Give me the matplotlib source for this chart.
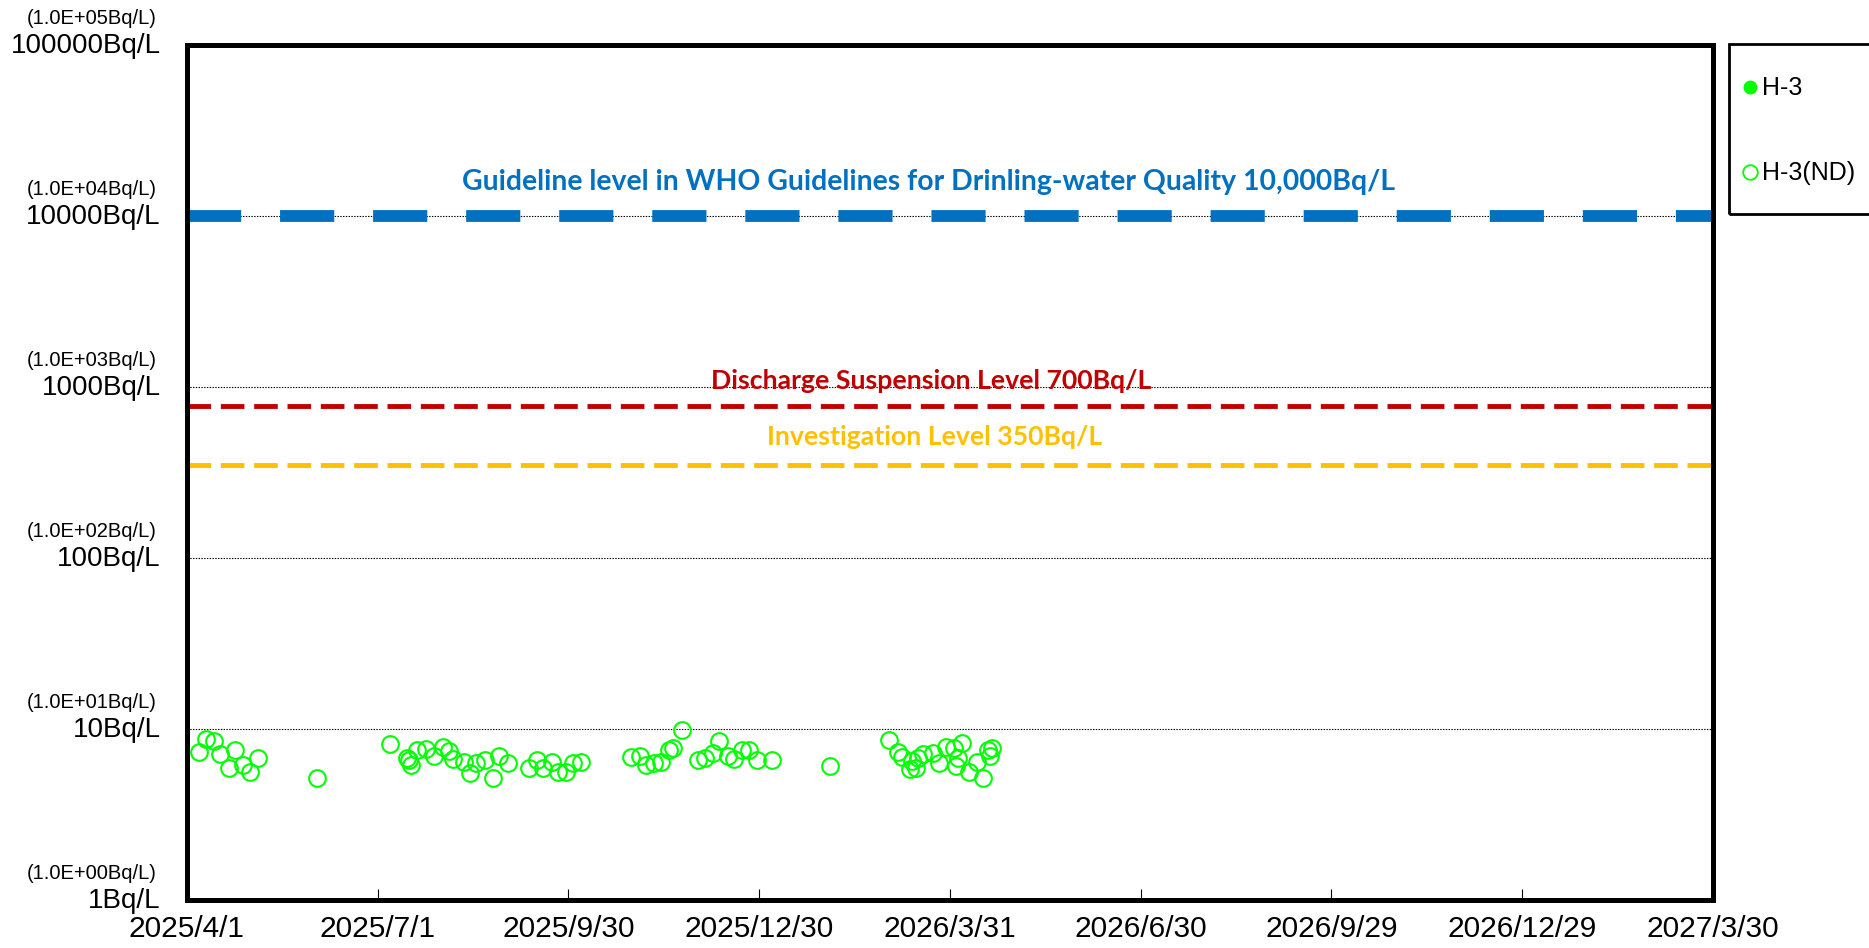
import pandas as pd
import matplotlib
matplotlib.use("Agg")
import matplotlib.pyplot as plt
from matplotlib.lines import Line2D
from matplotlib.patches import Rectangle
from matplotlib.ticker import NullLocator

plt.rcParams['font.family'] = ['Liberation Sans', 'DejaVu Sans']
plt.rcParams['lines.scale_dashes'] = False

# H-3 (ND) results, Bq/L
nd_dates = [
    '2025-04-07', '2025-04-10', '2025-04-14', '2025-04-17', '2025-04-21',
    '2025-04-24', '2025-04-28', '2025-05-01', '2025-05-05', '2025-06-02',
    '2025-07-07', '2025-07-15', '2025-07-16', '2025-07-17', '2025-07-20',
    '2025-07-24', '2025-07-28', '2025-08-01', '2025-08-04', '2025-08-06',
    '2025-08-11', '2025-08-14', '2025-08-17', '2025-08-21', '2025-08-25',
    '2025-08-28', '2025-09-01', '2025-09-11', '2025-09-15', '2025-09-18',
    '2025-09-22', '2025-09-25', '2025-09-29', '2025-10-02', '2025-10-06',
    '2025-10-30', '2025-11-03', '2025-11-06', '2025-11-10', '2025-11-13',
    '2025-11-17', '2025-11-19', '2025-11-23', '2025-12-01', '2025-12-04',
    '2025-12-08', '2025-12-11', '2025-12-15', '2025-12-18', '2025-12-22',
    '2025-12-25', '2025-12-29', '2026-01-05', '2026-02-02',
    '2026-03-02', '2026-03-06', '2026-03-08', '2026-03-12', '2026-03-13',
    '2026-03-15', '2026-03-16', '2026-03-18', '2026-03-23', '2026-03-26',
    '2026-03-29', '2026-04-02', '2026-04-03', '2026-04-04', '2026-04-06',
    '2026-04-09', '2026-04-13', '2026-04-16', '2026-04-18', '2026-04-19',
    '2026-04-20',
]
nd_values = [
    7.3, 8.7, 8.5, 7.1, 5.9,
    7.5, 6.2, 5.6, 6.8, 5.2,
    8.2, 6.8, 6.6, 6.2, 7.5,
    7.6, 7.0, 7.9, 7.4, 6.7,
    6.4, 5.5, 6.3, 6.6, 5.2,
    7.0, 6.3, 5.9, 6.6, 5.9,
    6.4, 5.6, 5.6, 6.3, 6.4,
    6.9, 7.0, 6.2, 6.3, 6.4,
    7.5, 7.7, 9.9, 6.6, 6.8,
    7.2, 8.5, 7.0, 6.7, 7.5,
    7.5, 6.6, 6.6, 6.1,
    8.6, 7.3, 6.9, 5.8, 6.5,
    5.9, 6.8, 7.1, 7.2, 6.3,
    7.9, 7.7, 6.1, 6.8, 8.3,
    5.6, 6.4, 5.2, 7.5, 7.0,
    7.7,
]
# detected H-3 (none in this period)
det_dates = []
det_values = []

x_ticks = ['2025-04-01', '2025-07-01', '2025-09-30', '2025-12-30', '2026-03-31',
           '2026-06-30', '2026-09-29', '2026-12-29', '2027-03-30']
y_exps = [0, 1, 2, 3, 4, 5]

# levels as drawn in the picture
ref_levels = [10000, 770, 350]
ref_labels = ['Guideline level in WHO Guidelines for Drinling-water Quality 10,000Bq/L',
              'Discharge Suspension Level 700Bq/L',
              'Investigation Level 350Bq/L']

W, H = 1869, 948
fig = plt.figure(figsize=(W / 100, H / 100), dpi=100)
ax = fig.add_axes([0.1, 0.0506, 0.8165, 0.9019])

ax.set_yscale('log')
ax.set_ylim(1, 1e5)
xt = pd.to_datetime(x_ticks)
ax.set_xlim(xt[0], xt[-1])

# grid lines
for v in [10, 100, 1000, 10000]:
    ax.axhline(v, color='black', lw=0.8, dashes=(1, 1), zorder=1)

# reference levels
ax.axhline(ref_levels[0], color='#0070C0', lw=8.5, dashes=(39, 28), zorder=2)
ax.axhline(ref_levels[1], color='#C00000', lw=3.5, dashes=(17, 7), zorder=2)
ax.axhline(ref_levels[2], color='#FFC000', lw=3.5, dashes=(17, 7), zorder=2)

lab_font = dict(family=['Lato', 'DejaVu Sans'], fontweight='bold',
                ha='center', va='center', transform=ax.get_yaxis_transform())
ax.text(0.486, 10 ** 4.2, ref_labels[0], color='#0070C0', fontsize=20.4, **lab_font)
ax.text(0.488, 10 ** 3.035, ref_labels[1], color='#C00000', fontsize=19.2, **lab_font)
ax.text(0.490, 10 ** 2.705, ref_labels[2], color='#FFC000', fontsize=19.2, **lab_font)

# data
ax.plot(pd.to_datetime(nd_dates), nd_values, 'o', ls='none', ms=12,
        mfc='none', mec='#00FF00', mew=1.5, zorder=3)
ax.plot(pd.to_datetime(det_dates), det_values, 'o', ls='none', ms=12,
        mfc='#00FF00', mec='#00FF00', zorder=3)

# axes frame
for s in ax.spines.values():
    s.set_linewidth(3.6)

ax.set_xticks(xt)
ax.set_xticklabels([f"{d.year}/{d.month}/{d.day}" for d in xt], fontsize=21.5)
ax.tick_params(axis='x', direction='in', length=8, width=0.8, pad=11)

ax.set_yticks([])
ax.yaxis.set_minor_locator(NullLocator())
for e in y_exps:
    v = 10 ** e
    ax.annotate(f"{v}Bq/L", xy=(0, v), xycoords=('axes fraction', 'data'),
                xytext=(-19, -1), textcoords='offset points',
                ha='right', va='center', fontsize=20)
    ax.annotate(f"(1.0E+{e:02d}Bq/L)", xy=(0, v), xycoords=('axes fraction', 'data'),
                xytext=(-22, 19), textcoords='offset points',
                ha='right', va='center', fontsize=14.5)

# legend box (right side, runs past the figure edge)
fig.add_artist(Rectangle((1729 / W, 1 - 214 / H), 200 / W, 170 / H,
                         transform=fig.transFigure, fill=False,
                         edgecolor='black', lw=2))
fig.add_artist(Line2D([1750 / W], [1 - 87 / H], transform=fig.transFigure,
                      marker='o', ls='none', ms=9, mfc='#00FF00', mec='#00FF00'))
fig.add_artist(Line2D([1750 / W], [1 - 172 / H], transform=fig.transFigure,
                      marker='o', ls='none', ms=10.5, mfc='none', mec='#00FF00', mew=1.3))
fig.text(1762 / W, 1 - 88 / H, 'H-3', fontsize=18, va='center', ha='left')
fig.text(1762 / W, 1 - 173 / H, 'H-3(ND)', fontsize=18, va='center', ha='left')

fig.savefig('out.png', dpi=100)
